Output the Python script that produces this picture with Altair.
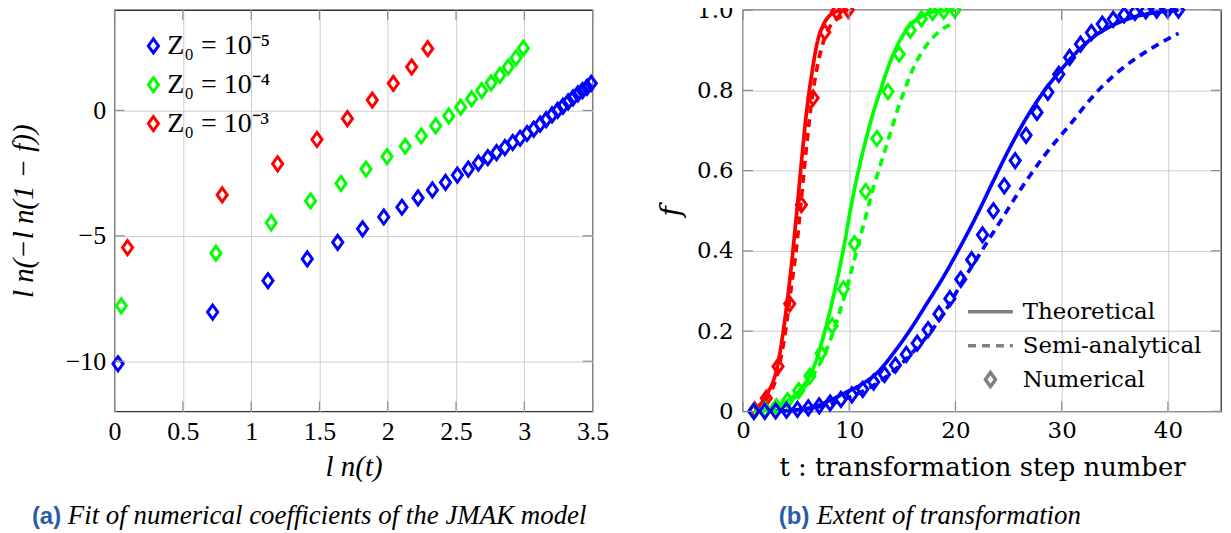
import altair as alt
import pandas as pd

# ---------------- panel (a): ln(t) vs ln(-ln(1-f)) ----------------
series_names = ["Z₀ = 10⁻⁵", "Z₀ = 10⁻⁴", "Z₀ = 10⁻³"]
series_colors = ["#0000ff", "#00ff00", "#ff0000"]

lnt_z5 = [0.025, 0.718, 1.123, 1.411, 1.634, 1.816, 1.971, 2.104, 2.222, 2.327,
          2.423, 2.510, 2.590, 2.664, 2.733, 2.797, 2.858, 2.915, 2.969, 3.020,
          3.069, 3.116, 3.160, 3.203, 3.244, 3.283, 3.321, 3.357, 3.392, 3.426,
          3.459, 3.490]
lnf_z5 = [-10.1, -8.04, -6.79, -5.92, -5.26, -4.72, -4.25, -3.86, -3.49, -3.17,
          -2.87, -2.58, -2.34, -2.10, -1.88, -1.68, -1.48, -1.28, -1.11, -0.92,
          -0.75, -0.55, -0.37, -0.18, 0.0, 0.17, 0.34, 0.50, 0.66, 0.79,
          0.92, 1.08]
lnt_z4 = [0.049, 0.742, 1.147, 1.435, 1.658, 1.841, 1.995, 2.128, 2.246, 2.351,
          2.447, 2.534, 2.614, 2.688, 2.757, 2.821, 2.882, 2.939, 2.993]
lnf_z4 = [-7.79, -5.69, -4.48, -3.61, -2.91, -2.34, -1.84, -1.43, -1.02, -0.62,
          -0.22, 0.13, 0.46, 0.79, 1.10, 1.40, 1.73, 2.09, 2.48]
lnt_z3 = [0.095, 0.788, 1.194, 1.482, 1.705, 1.887, 2.041, 2.175, 2.293]
lnf_z3 = [-5.47, -3.37, -2.13, -1.16, -0.33, 0.41, 1.08, 1.73, 2.46]

xa_ticks = [0, 0.5, 1, 1.5, 2, 2.5, 3, 3.5]
ya_ticks = [-10, -5, 0]

# ---------------- panel (b): f vs t ----------------
kinds = ["Theoretical", "Semi-analytical", "Numerical"]

t_num_z5 = [1.025, 2.05, 3.075, 4.1, 5.125, 6.15, 7.175, 8.2, 9.225, 10.25,
            11.275, 12.3, 13.325, 14.35, 15.375, 16.4, 17.425, 18.45, 19.475, 20.5,
            21.525, 22.55, 23.575, 24.6, 25.625, 26.65, 27.675, 28.7, 29.725, 30.75,
            31.775, 32.8, 33.825, 34.85, 35.875, 36.9, 37.925, 38.95, 39.975, 41.0]
f_num_z5 = [0.0, 0.0003, 0.001, 0.003, 0.005, 0.009, 0.014, 0.021, 0.030, 0.041,
            0.055, 0.073, 0.092, 0.115, 0.142, 0.170, 0.204, 0.243, 0.281, 0.329,
            0.378, 0.440, 0.500, 0.562, 0.625, 0.688, 0.745, 0.795, 0.840, 0.882,
            0.915, 0.944, 0.965, 0.977, 0.988, 0.994, 0.998, 1.0, 1.0, 1.0]
t_num_z4 = [1.05, 2.1, 3.15, 4.2, 5.25, 6.3, 7.35, 8.4, 9.45, 10.5,
            11.55, 12.6, 13.65, 14.7, 15.75, 16.8, 17.85, 18.9, 19.95]
f_num_z4 = [0.0004, 0.0034, 0.012, 0.027, 0.052, 0.088, 0.145, 0.213, 0.305, 0.418,
            0.548, 0.680, 0.797, 0.890, 0.950, 0.978, 0.994, 0.997, 1.0]
t_num_z3 = [1.1, 2.2, 3.3, 4.4, 5.5, 6.6, 7.7, 8.8, 9.9]
f_num_z3 = [0.004, 0.033, 0.112, 0.268, 0.515, 0.781, 0.945, 0.996, 1.0]

t_th_z3 = [1.1, 2.2, 3.3, 4.0, 4.5, 5.0, 5.5, 6.0, 6.5, 7.0, 7.5, 8.0, 8.5, 9.0, 9.9]
f_th_z3 = [0.005, 0.04, 0.12, 0.24, 0.35, 0.48, 0.62, 0.75, 0.845, 0.92, 0.96, 0.982, 0.993, 0.998, 1.0]
t_sa_z3 = [1.1, 2.2, 3.3, 4.0, 4.5, 5.0, 5.5, 6.0, 6.5, 7.0, 7.5, 8.0, 8.5, 9.0, 9.9]
f_sa_z3 = [0.003, 0.03, 0.10, 0.20, 0.30, 0.40, 0.53, 0.665, 0.78, 0.86, 0.915, 0.95, 0.97, 0.98, 0.99]

t_th_z4 = [1.05, 2.1, 3.15, 4.2, 5.25, 6.3, 7.0, 7.5, 8.0, 8.5, 9.0, 9.5, 10.0, 10.5,
           11.0, 11.5, 12.0, 12.5, 13.0, 13.5, 14.0, 14.5, 15.0, 15.6, 16.7, 18.0, 19.0, 19.95]
f_th_z4 = [0.0005, 0.004, 0.013, 0.027, 0.05, 0.09, 0.135, 0.18, 0.23, 0.285, 0.345, 0.41, 0.485, 0.555,
           0.615, 0.67, 0.72, 0.765, 0.805, 0.845, 0.88, 0.91, 0.935, 0.958, 0.982, 0.996, 0.999, 1.0]
t_sa_z4 = [1.05, 2.1, 3.15, 4.2, 5.25, 6.3, 7.35, 8.4, 9.0, 9.7, 10.3, 10.8, 11.5, 12.2,
           13.0, 13.6, 14.06, 14.53, 15.2, 15.78, 16.4, 17.35, 18.4, 19.85]
f_sa_z4 = [0.0003, 0.003, 0.01, 0.022, 0.044, 0.078, 0.125, 0.19, 0.24, 0.30, 0.36, 0.41, 0.48, 0.55,
           0.62, 0.67, 0.71, 0.75, 0.80, 0.84, 0.875, 0.915, 0.945, 0.968]

t_th_z5 = [3.075, 5.0, 6.5, 8.0, 9.5, 11.0, 12.66, 14.22, 15.78, 17.34, 18.91, 20.47, 22.03,
           23.6, 25.16, 26.72, 28.4, 30.0, 31.4, 33.1, 35.2, 37.0, 38.6, 40.2, 41.0]
f_th_z5 = [0.0, 0.004, 0.01, 0.025, 0.045, 0.065, 0.097, 0.147, 0.205, 0.27, 0.337, 0.411, 0.49,
           0.576, 0.659, 0.733, 0.80, 0.853, 0.895, 0.935, 0.967, 0.984, 0.993, 0.998, 1.0]
t_sa_z5 = [3.075, 5.0, 6.5, 8.0, 9.5, 11.0, 12.5, 14.0, 16.0, 18.0, 19.5, 20.8, 22.0, 23.3,
           24.5, 25.8, 27.0, 28.3, 29.8, 30.8, 32.3, 33.9, 35.5, 37.0, 38.6, 41.0]
f_sa_z5 = [0.0, 0.003, 0.008, 0.017, 0.03, 0.047, 0.068, 0.097, 0.148, 0.21, 0.27, 0.33, 0.38, 0.435,
           0.485, 0.54, 0.587, 0.635, 0.684, 0.715, 0.765, 0.812, 0.85, 0.88, 0.907, 0.942]

xb_ticks = [0, 10, 20, 30, 40]
yb_ticks = [0, 0.2, 0.4, 0.6, 0.8, 1.0]

cap_a_label = "(a)"
cap_a_text = "Fit of numerical coefficients of the JMAK model"
cap_b_label = "(b)"
cap_b_text = "Extent of transformation"

# ---------------- tables ----------------
rows_a = []
for name, xs, ys in zip(series_names, [lnt_z5, lnt_z4, lnt_z3], [lnf_z5, lnf_z4, lnf_z3]):
    for a, b in zip(xs, ys):
        rows_a.append({"series": name, "lnt": a, "v": b})
df_a = pd.DataFrame(rows_a)

rows_l = []
for name, tt, ff, kind in [
    (series_names[2], t_th_z3, f_th_z3, kinds[0]), (series_names[2], t_sa_z3, f_sa_z3, kinds[1]),
    (series_names[1], t_th_z4, f_th_z4, kinds[0]), (series_names[1], t_sa_z4, f_sa_z4, kinds[1]),
    (series_names[0], t_th_z5, f_th_z5, kinds[0]), (series_names[0], t_sa_z5, f_sa_z5, kinds[1]),
]:
    for a, b in zip(tt, ff):
        rows_l.append({"series": name, "kind": kind, "t": a, "f": b})
df_lines = pd.DataFrame(rows_l)

rows_p = []
for name, tt, ff in [(series_names[2], t_num_z3, f_num_z3),
                     (series_names[1], t_num_z4, f_num_z4),
                     (series_names[0], t_num_z5, f_num_z5)]:
    for a, b in zip(tt, ff):
        rows_p.append({"series": name, "kind": kinds[2], "t": a, "f": b})
df_pts = pd.DataFrame(rows_p)

# ---------------- styling ----------------
W, H = 480, 403
FONT_A = "Liberation Serif"
FONT_B = "DejaVu Serif"
GRID = "#cdcdcd"
TICK = "#8c8c8c"
DIAMOND = "M0,-1L0.72,0L0,1L-0.72,0Z"
DIAMOND_S = "M0,-0.314L0.226,0L0,0.314L-0.226,0Z"

color_scale = alt.Scale(domain=series_names, range=series_colors)


def frame_ticks(xvals, yvals, xscale, yscale, L=10):
    xdf = pd.DataFrame({"tv": xvals})
    ydf = pd.DataFrame({"tv": yvals})
    bx = alt.X("tv:Q", scale=xscale)
    by = alt.Y("tv:Q", scale=yscale)
    rule = dict(color=TICK, strokeWidth=1.2)
    return [
        alt.Chart(xdf).mark_rule(**rule).encode(x=bx, y=alt.value(H), y2=alt.value(H - L)),
        alt.Chart(xdf).mark_rule(**rule).encode(x=bx, y=alt.value(0), y2=alt.value(L)),
        alt.Chart(ydf).mark_rule(**rule).encode(y=by, x=alt.value(0), x2=alt.value(L)),
        alt.Chart(ydf).mark_rule(**rule).encode(y=by, x=alt.value(W), x2=alt.value(W - L)),
    ]


def caption(label, text, x0, gap):
    lab = alt.Chart(pd.DataFrame({"c": [label]})).mark_text(
        align="left", baseline="alphabetic", font="Liberation Sans", fontWeight="bold",
        fontSize=24, color="#2a5ba8").encode(text="c:N", x=alt.value(x0), y=alt.value(516))
    txt = alt.Chart(pd.DataFrame({"c": [text]})).mark_text(
        align="left", baseline="alphabetic", font=FONT_A, fontStyle="italic",
        fontSize=27, color="black").encode(text="c:N", x=alt.value(x0 + gap), y=alt.value(516))
    return [lab, txt]


# ---------------- panel (a) ----------------
xs_a = alt.Scale(domain=[0, 3.5], nice=False, zero=False)
ys_a = alt.Scale(domain=[-12, 4], nice=False, zero=False)

pts_a = alt.Chart(df_a).mark_point(
    shape=DIAMOND, size=200, strokeWidth=3, filled=False, opacity=1
).encode(
    x=alt.X("lnt:Q", scale=xs_a, axis=alt.Axis(
        values=xa_ticks, format="~g", grid=True, gridColor=GRID, ticks=False, domain=False,
        labelFont=FONT_A, labelFontSize=26, labelColor="black", labelPadding=7,
        labelFlush=False, labelOverlap=False,
        title="l n(t)", titleFont=FONT_A, titleFontSize=29, titleFontStyle="italic",
        titleFontWeight="normal", titleColor="black", titleX=240, titleY=55,
        titleAlign="center", titleBaseline="middle")),
    y=alt.Y("v:Q", scale=ys_a, axis=alt.Axis(
        values=ya_ticks, grid=True, gridColor=GRID, ticks=False, domain=False,
        labelFont=FONT_A, labelFontSize=26, labelColor="black", labelPadding=9,
        labelOverlap=False,
        title="l n(−l n(1 − f))", titleFont=FONT_A, titleFontSize=29, titleFontStyle="italic",
        titleFontWeight="normal", titleColor="black", titleX=-91, titleY=H / 2,
        titleAngle=-90, titleAlign="center", titleBaseline="middle")),
    color=alt.Color("series:N", scale=color_scale, legend=alt.Legend(
        title=None, orient="none", legendX=25, legendY=21, padding=0,
        symbolType=DIAMOND, symbolSize=200, symbolStrokeWidth=3,
        symbolFillColor="transparent", labelFont=FONT_A, labelFontSize=28,
        labelColor="black", labelOffset=0, clipHeight=30, rowPadding=9,
        labelLimit=300)),
)

left = alt.layer(
    pts_a, *frame_ticks(xa_ticks, ya_ticks, xs_a, ys_a), *caption(cap_a_label, cap_a_text, -83, 36)
).properties(width=W, height=H)

# ---------------- panel (b) ----------------
xs_b = alt.Scale(domain=[0, 45], nice=False, zero=False)
ys_b = alt.Scale(domain=[0, 1], nice=False, zero=False)

legend_b = alt.Legend(
    title=None, orient="none", legendX=224, legendY=288, padding=0,
    symbolSize=2025, symbolStrokeWidth=3.5, symbolStrokeColor="#808080",
    symbolFillColor="transparent", labelFont=FONT_B, labelFontSize=23,
    labelColor="black", labelOffset=8, clipHeight=30, rowPadding=4, labelLimit=300)

x_b = alt.X("t:Q", scale=xs_b, axis=alt.Axis(
    values=xb_ticks, grid=True, gridColor=GRID, ticks=False, domain=False,
    labelFont=FONT_B, labelFontSize=23, labelColor="black", labelPadding=8,
    labelFlush=False, labelOverlap=False,
    title="t : transformation step number", titleFont=FONT_B, titleFontSize=26,
    titleFontWeight="normal", titleColor="black", titleX=240, titleY=56,
    titleAlign="center", titleBaseline="middle"))
y_b = alt.Y("f:Q", scale=ys_b, axis=alt.Axis(
    values=yb_ticks, grid=True, gridColor=GRID, ticks=False, domain=False,
    labelExpr="datum.value == 0 ? '0' : format(datum.value, '.1f')",
    labelFont=FONT_B, labelFontSize=23, labelColor="black", labelPadding=10,
    labelOverlap=False,
    title="f", titleFont=FONT_B, titleFontSize=28, titleFontStyle="italic",
    titleFontWeight="normal", titleColor="black", titleX=-72, titleY=H / 2,
    titleAngle=-90, titleAlign="center", titleBaseline="middle"))

lines_b = alt.Chart(df_lines).mark_line(strokeWidth=3.7, interpolate="monotone").encode(
    x=x_b, y=y_b,
    color=alt.Color("series:N", scale=color_scale, legend=None),
    strokeDash=alt.StrokeDash("kind:N", scale=alt.Scale(
        domain=kinds, range=[[1, 0], [8, 6], [1, 0]]), legend=legend_b),
)
pts_b = alt.Chart(df_pts).mark_point(size=2025, strokeWidth=3, filled=False, opacity=1).encode(
    x=x_b, y=y_b,
    color=alt.Color("series:N", scale=color_scale, legend=None),
    shape=alt.Shape("kind:N", scale=alt.Scale(
        domain=kinds, range=["stroke", "stroke", DIAMOND_S]), legend=legend_b),
)

right = alt.layer(
    lines_b, pts_b, *frame_ticks(xb_ticks, yb_ticks, xs_b, ys_b), *caption(cap_b_label, cap_b_text, 36, 38)
).properties(width=W, height=H)

chart = alt.hconcat(left, right, spacing=151, bounds="flush").resolve_scale(
    color="independent", shape="independent", strokeDash="independent"
).resolve_legend(color="independent", shape="independent", strokeDash="independent").properties(
    padding={"left": 1, "top": -13, "right": 0, "bottom": 0}
).configure(background="white").configure_view(stroke="#333333", strokeWidth=1.3)

chart.save("out.html", embed_options={"renderer": "svg", "actions": False})
